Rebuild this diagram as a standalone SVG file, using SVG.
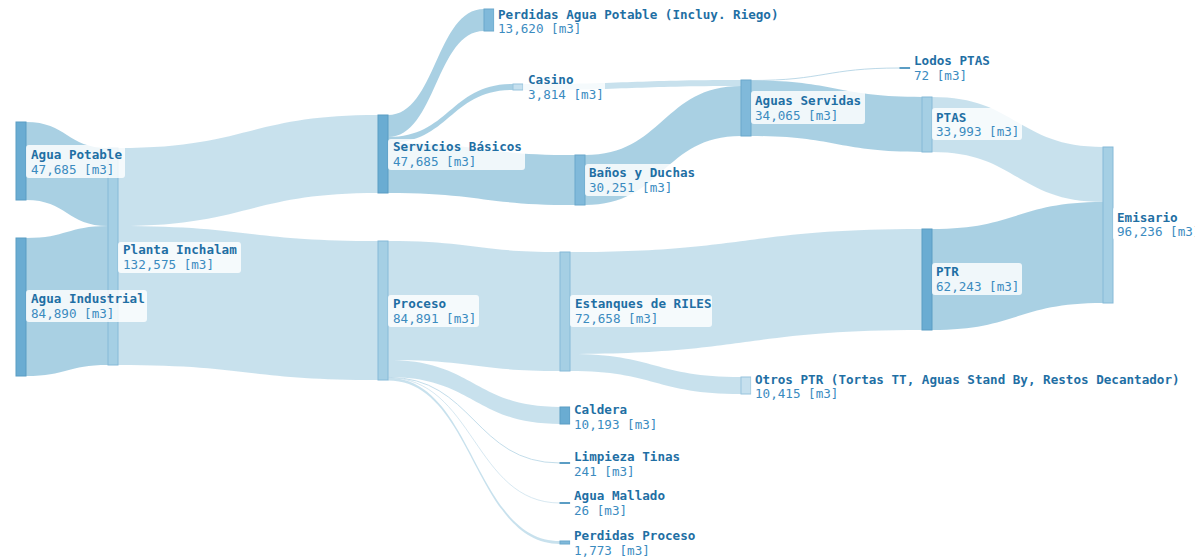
<svg xmlns="http://www.w3.org/2000/svg" width="1195" height="559" viewBox="0 0 1195 559">
<style>
.bg{fill:#ffffff}
.lm{fill:#a4cde2;fill-opacity:0.95}
.ll{fill:#c5dfec;fill-opacity:0.95}
.lt{fill:none;stroke:#bcd9e8;stroke-linecap:butt}
.nd{fill:#6aacd2;stroke:#5b9dc4;stroke-width:1}
.nm{fill:#80b9da;stroke:#6aa8cc;stroke-width:1}
.nl{fill:#a5cfe4;stroke:#86bad8;stroke-width:1}
.nv{fill:#c6e0ee;stroke:#98c4dd;stroke-width:1}
.lb{fill:#ffffff;fill-opacity:0.82}
.t1{font-family:"DejaVu Sans Mono","Liberation Mono",monospace;font-size:12.6px;font-weight:bold;fill:#1f6fa4}
.t2{font-family:"DejaVu Sans Mono","Liberation Mono",monospace;font-size:12.6px;fill:#3b8bbf}
</style>
<rect class="bg" x="0" y="0" width="1195" height="559"/>
<g id="connectors">
<path class="lm" d="M26,122 C67,122 67,148 108,148 L108,226 C67,226 67,200 26,200 Z"/>
<path class="lm" d="M26,238 C67,238 67,226 108,226 L108,365 C67,365 67,376 26,376 Z"/>
<path class="ll" d="M118,148 C248,148 248,115 378,115 L378,193 C248,193 248,226 118,226 Z"/>
<path class="ll" d="M118,226 C248,226 248,241 378,241 L378,380 C248,380 248,365 118,365 Z"/>
<path class="lm" d="M388,115 C436,115 436,9 484,9 L484,31 C436,31 436,137 388,137 Z"/>
<path class="lm" d="M388,137 C450,137 450,84 513,84 L513,90 C450,90 450,143 388,143 Z"/>
<path class="lm" d="M388,143 C481,143 481,155 575,155 L575,205 C481,205 481,193 388,193 Z"/>
<path class="ll" d="M523,84 C632,84 632,80 741,80 L741,86 C632,86 632,90 523,90 Z"/>
<path class="lm" d="M585,155 C663,155 663,86 741,86 L741,136 C663,136 663,205 585,205 Z"/>
<path class="lt" stroke-width="1" d="M751,80.5 C825,80.5 825,68 900,68"/>
<path class="lm" d="M751,80.5 C836,80.5 836,97 922,97 L922,152 C836,152 836,136 751,136 Z"/>
<path class="ll" d="M932,97 C1017,97 1017,147 1103,147 L1103,202 C1017,202 1017,152 932,152 Z"/>
<path class="lm" d="M932,229 C1017,229 1017,202 1103,202 L1103,303 C1017,303 1017,330 932,330 Z"/>
<path class="ll" d="M388,241 C474,241 474,252 560,252 L560,371 C474,371 474,360 388,360 Z"/>
<path class="ll" d="M388,360 C474,360 474,407 560,407 L560,424 C474,424 474,377 388,377 Z"/>
<path class="lt" stroke-width="0.9" d="M388,377.3 C474,377.3 474,463 560,463"/>
<path class="lt" stroke-width="0.6" d="M388,377.7 C474,377.7 474,503 560,503"/>
<path class="ll" d="M388,377.7 C474,377.7 474,541 560,541 L560,544 C474,544 474,380.5 388,380.5 Z"/>
<path class="ll" d="M570,252 C746,252 746,229 922,229 L922,330 C746,330 746,354 570,354 Z"/>
<path class="ll" d="M570,354 C655,354 655,377 741,377 L741,394 C655,394 655,371 570,371 Z"/>
</g>
<g id="node-planta">
<rect class="nl" x="108" y="148" width="10" height="217"/>
<rect class="lb" x="118" y="242" width="123" height="31" rx="3"/>
<text class="t1" x="123" y="254">Planta Inchalam</text>
<text class="t2" x="123" y="269">132,575 [m3]</text>
</g>
<g id="node-agua-potable">
<rect class="nd" x="16" y="122" width="10" height="78"/>
<rect class="lb" x="26" y="145" width="99" height="33" rx="3"/>
<text class="t1" x="31" y="159">Agua Potable</text>
<text class="t2" x="31" y="174">47,685 [m3]</text>
</g>
<g id="node-agua-industrial">
<rect class="nd" x="16" y="238" width="10" height="138"/>
<rect class="lb" x="26" y="290" width="121" height="32" rx="3"/>
<text class="t1" x="31" y="303">Agua Industrial</text>
<text class="t2" x="31" y="318">84,890 [m3]</text>
</g>
<g id="node-servicios">
<rect class="nd" x="378" y="115" width="10" height="78"/>
<rect class="lb" x="388" y="139" width="137" height="31" rx="3"/>
<text class="t1" x="393" y="151">Servicios Básicos</text>
<text class="t2" x="393" y="166">47,685 [m3]</text>
</g>
<g id="node-proceso">
<rect class="nl" x="378" y="241" width="10" height="139"/>
<rect class="lb" x="388" y="295" width="91" height="32" rx="3"/>
<text class="t1" x="393" y="308">Proceso</text>
<text class="t2" x="393" y="323">84,891 [m3]</text>
</g>
<g id="node-perdidas-agua-potable">
<rect class="nm" x="484" y="9" width="10" height="22"/>
<rect class="lb" x="494" y="5" width="287" height="31" rx="3"/>
<text class="t1" x="498" y="18.5">Perdidas Agua Potable (Incluy. Riego)</text>
<text class="t2" x="498" y="33">13,620 [m3]</text>
</g>
<g id="node-casino">
<rect class="nv" x="513" y="84" width="10" height="6"/>
<rect class="lb" x="523" y="72" width="82" height="31" rx="3"/>
<text class="t1" x="528" y="84">Casino</text>
<text class="t2" x="528" y="99">3,814 [m3]</text>
</g>
<g id="node-banos">
<rect class="nm" x="575" y="155" width="10" height="50"/>
<rect class="lb" x="585" y="164" width="113" height="32" rx="3"/>
<text class="t1" x="589" y="177">Baños y Duchas</text>
<text class="t2" x="589" y="192">30,251 [m3]</text>
</g>
<g id="node-riles">
<rect class="nl" x="560" y="252" width="10" height="119"/>
<rect class="lb" x="570" y="295" width="142" height="32" rx="3"/>
<text class="t1" x="575" y="308">Estanques de RILES</text>
<text class="t2" x="575" y="323">72,658 [m3]</text>
</g>
<g id="node-caldera">
<rect class="nd" x="560" y="407" width="10" height="17"/>
<rect class="lb" x="570" y="401" width="90" height="31" rx="3"/>
<text class="t1" x="574" y="414">Caldera</text>
<text class="t2" x="574" y="429">10,193 [m3]</text>
</g>
<g id="node-limpieza">
<rect class="nd" x="560" y="462.5" width="10" height="1"/>
<rect class="lb" x="570" y="448" width="113" height="31" rx="3"/>
<text class="t1" x="574" y="461">Limpieza Tinas</text>
<text class="t2" x="574" y="476">241 [m3]</text>
</g>
<g id="node-mallado">
<rect class="nd" x="560" y="502.5" width="10" height="1"/>
<rect class="lb" x="570" y="487" width="98" height="31" rx="3"/>
<text class="t1" x="574" y="500">Agua Mallado</text>
<text class="t2" x="574" y="515">26 [m3]</text>
</g>
<g id="node-perdidas-proceso">
<rect class="nm" x="560" y="541" width="10" height="3"/>
<rect class="lb" x="570" y="527" width="128" height="31" rx="3"/>
<text class="t1" x="574" y="540">Perdidas Proceso</text>
<text class="t2" x="574" y="555">1,773 [m3]</text>
</g>
<g id="node-aguas-servidas">
<rect class="nm" x="741" y="80" width="10" height="56"/>
<rect class="lb" x="751" y="91" width="114" height="33" rx="3"/>
<text class="t1" x="755" y="105">Aguas Servidas</text>
<text class="t2" x="755" y="120">34,065 [m3]</text>
</g>
<g id="node-otros-ptr">
<rect class="nv" x="741" y="377" width="10" height="17"/>
<rect class="lb" x="751" y="369" width="431" height="33" rx="3"/>
<text class="t1" x="755" y="384">Otros PTR (Tortas TT, Aguas Stand By, Restos Decantador)</text>
<text class="t2" x="755" y="398">10,415 [m3]</text>
</g>
<g id="node-lodos-ptas">
<rect class="nd" x="900" y="67.5" width="10" height="1"/>
<rect class="lb" x="910" y="54" width="83" height="31" rx="3"/>
<text class="t1" x="914" y="65">Lodos PTAS</text>
<text class="t2" x="914" y="80">72 [m3]</text>
</g>
<g id="node-ptas">
<rect class="nl" x="922" y="97" width="10" height="55"/>
<rect class="lb" x="932" y="108" width="90" height="32" rx="3"/>
<text class="t1" x="936" y="122">PTAS</text>
<text class="t2" x="936" y="136">33,993 [m3]</text>
</g>
<g id="node-ptr">
<rect class="nd" x="922" y="229" width="10" height="101"/>
<rect class="lb" x="932" y="263" width="90" height="32" rx="3"/>
<text class="t1" x="936" y="276">PTR</text>
<text class="t2" x="936" y="291">62,243 [m3]</text>
</g>
<g id="node-emisario">
<rect class="nl" x="1103" y="147" width="10" height="156"/>
<rect class="lb" x="1113" y="207" width="82" height="33" rx="3"/>
<text class="t1" x="1117" y="222">Emisario</text>
<text class="t2" x="1117" y="236">96,236 [m3]</text>
</g>
</svg>
